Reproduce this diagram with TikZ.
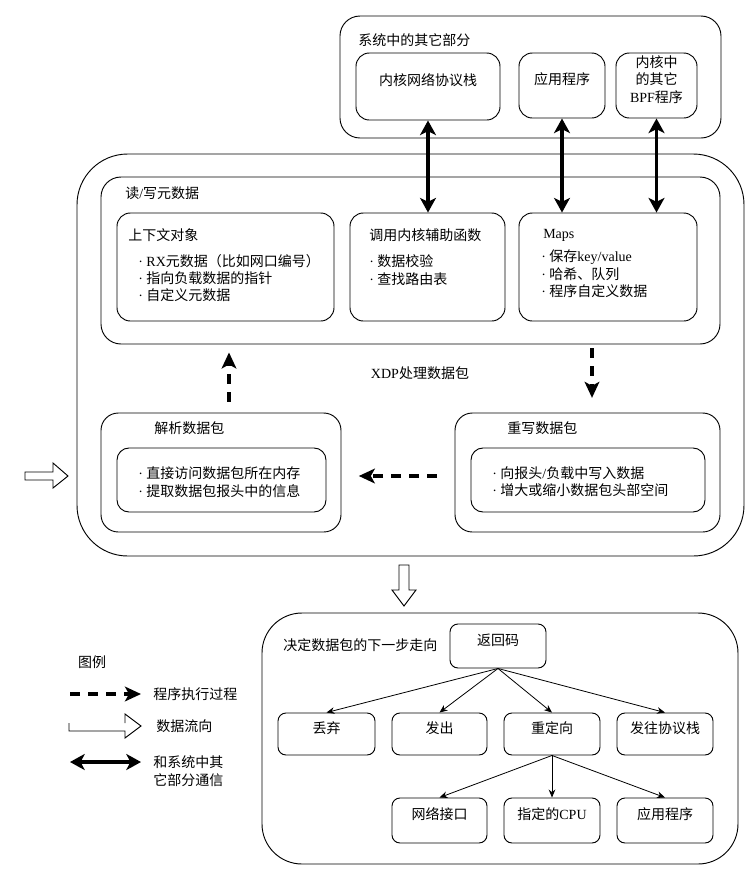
\documentclass[tikz,border=0pt]{standalone}
\usepackage{fontspec}
\setmainfont{Liberation Serif}
\newfontfamily\cjk{Noto Sans CJK SC}
\usepackage{tikz}
\usetikzlibrary{arrows.meta, fit}

\newcommand\lat[1]{{\rmfamily #1}}
\newcommand\bul{{\rmfamily ·\ }}

\tikzset{
  txt/.style={font=\cjk\fontsize{10.5}{13}\selectfont, inner sep=0pt},
  box/.style={draw, line width=0.7pt, rounded corners=7pt, inner sep=0pt, txt},
  comm/.style={line width=2.8pt, {Stealth[length=11pt,width=12pt,inset=3pt]}-{Stealth[length=11pt,width=12pt,inset=3pt]}},
  flow/.style={line width=3pt, dash pattern=on 7.5pt off 6pt, -{Stealth[length=12pt,width=11pt,inset=3pt]}},
  branch/.style={line width=0.6pt, -{Stealth[length=6pt,width=5pt]}},
  hollow/.style={draw, line width=0.7pt, fill=white},
}

\begin{document}
\begin{tikzpicture}[x=0.75pt, y=-0.75pt]
    \useasboundingbox (0,0) rectangle (755,876);

    % other parts of the system
    \node[box, rounded corners=15pt, fit={(340,16) (721,138)}] (system) {};
    \node[txt, anchor=west] (systitle) at (358,40) {系统中的其它部分};
    \node[box, rounded corners=10pt, fit={(356,53) (500,120)}] (stack) {内核网络协议栈};
    \node[box, rounded corners=10pt, fit={(519,53) (605,118)}] (app) {应用程序};
    \node[box, rounded corners=10pt, fit={(616,53) (697,118)}, align=center] (bpf) {内核中\\的其它\\\lat{BPF}程序};

    % XDP
    \node[box, rounded corners=38pt, fit={(77,154) (744,556)}] (xdp) {};
    \node[box, rounded corners=15pt, fit={(101,177) (720,344)}] (meta) {};
    \node[txt, anchor=west] (metatitle) at (125,193) {读\lat{/}写元数据};

    \node[box, rounded corners=10pt, fit={(117,213) (334,321)}] (ctx) {};
    \node[txt, anchor=west] (ctxtitle) at (128,235) {上下文对象};
    \node[txt, anchor=west, align=left] (ctxlist) at (138,278) {\bul\lat{RX}元数据（比如网口编号）\\ \bul 指向负载数据的指针\\ \bul 自定义元数据};

    \node[box, rounded corners=10pt, fit={(350,213) (505,321)}] (helper) {};
    \node[txt, anchor=west] (helpertitle) at (369,235) {调用内核辅助函数};
    \node[txt, anchor=west, align=left] (helperlist) at (369,270) {\bul 数据校验\\ \bul 查找路由表};

    \node[box, rounded corners=10pt, fit={(519,213) (697,321)}] (maps) {};
    \node[txt, anchor=west] (mapstitle) at (543,235) {\lat{Maps}};
    \node[txt, anchor=west, align=left] (mapslist) at (541,274) {\bul 保存\lat{key/value}\\ \bul 哈希、队列\\ \bul 程序自定义数据};

    \draw[comm] (stack.south) -- (helper.north -| stack.south);
    \draw[comm] (app.south) -- (maps.north -| app.south);
    \draw[comm] (bpf.south) -- (maps.north -| bpf.south);

    \node[txt] (xdplabel) at (420,373) {\lat{XDP}处理数据包};

    \node[box, rounded corners=13pt, fit={(101,413) (341,532)}] (parse) {};
    \node[txt, anchor=west] (parsetitle) at (154,428) {解析数据包};
    \node[box, rounded corners=9pt, fit={(117,448) (326,512)}] (parsein) {};
    \node[txt, anchor=west, align=left] (parselist) at (138,482) {\bul 直接访问数据包所在内存\\ \bul 提取数据包报头中的信息};

    \node[box, rounded corners=13pt, fit={(455,413) (720,532)}] (rewrite) {};
    \node[txt, anchor=west] (rewritetitle) at (507,428) {重写数据包};
    \node[box, rounded corners=9pt, fit={(471,448) (705,512)}] (rewritein) {};
    \node[txt, anchor=west, align=left] (rewritelist) at (492,482) {\bul 向报头\lat{/}负载中写入数据\\ \bul 增大或缩小数据包头部空间};

    \draw[flow, shorten <=8pt, shorten >=6pt] (229,0 |- parse.north) -- (229,0 |- meta.south);
    \draw[flow, shorten <=3pt, shorten >=11pt] (592,0 |- meta.south) -- (592,0 |- rewrite.north);
    \draw[flow, shorten <=13pt, shorten >=13pt] (rewrite.west |- 0,476) -- (parse.east |- 0,476);

    % data in and out
    \draw[hollow] (25,472) -- (53,472) -- (53,463) -- (68,476) -- (53,488) -- (53,480) -- (25,480) -- cycle;
    \draw[hollow] (399,565) -- (409,565) -- (409,590) -- (416,590) -- (404,606) -- (392,590) -- (399,590) -- cycle;

    % return codes
    \node[box, rounded corners=30pt, fit={(262,613) (738,864)}] (decide) {};
    \node[txt, anchor=west] (decidetitle) at (283,645) {决定数据包的下一步走向};
    \node[box, rounded corners=6pt, fit={(450,624) (546,668)}] (retcode) {返回码};

    \node[box, rounded corners=6pt, fit={(278,713) (375,755)}] (drop) {丢弃};
    \node[box, rounded corners=6pt, fit={(392,713) (487,755)}] (send) {发出};
    \node[box, rounded corners=6pt, fit={(504,713) (600,755)}] (redirect) {重定向};
    \node[box, rounded corners=6pt, fit={(617,713) (713,755)}] (tostack) {发往协议栈};

    \node[box, rounded corners=6pt, fit={(392,798) (487,843)}] (nic) {网络接口};
    \node[box, rounded corners=6pt, fit={(504,798) (600,843)}] (cpu) {指定的\lat{CPU}};
    \node[box, rounded corners=6pt, fit={(617,798) (713,843)}] (userapp) {应用程序};

    \foreach \n in {drop, send, redirect, tostack}
        \draw[branch] (retcode.south) -- (\n.north);
    \foreach \n in {nic, cpu, userapp}
        \draw[branch] (redirect.south) -- (\n.north);

    % legend
    \node[txt] (legend) at (92,662) {图例};
    \node[txt, anchor=west] (legflow) at (153,694) {程序执行过程};
    \node[txt, anchor=west] (legdata) at (156,726) {数据流向};
    \node[txt, anchor=west, align=left] (legcomm) at (153,771) {和系统中其\\它部分通信};
    \coordinate (flowstart) at (70,694);
    \coordinate (commstart) at (70,762);
    \coordinate (commend) at (141,762);
    \draw[flow, shorten >=9pt] (flowstart) -- (legflow.west);
    \draw[line width=0.7pt] (69,723) -- (69,731) -- (125,731) -- (125,738) -- (141,726) -- (125,714) -- (125,723);
    \draw[comm] (commstart) -- (commend);
\end{tikzpicture}
\end{document}
